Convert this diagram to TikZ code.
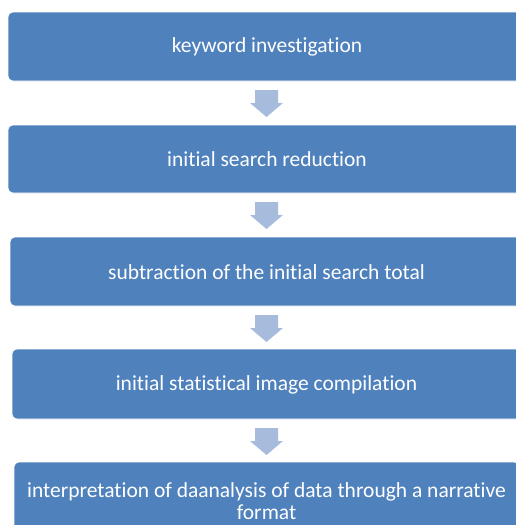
\documentclass[tikz,border=0pt]{standalone}
\usepackage{fontspec}
\setmainfont[Ligatures=NoCommon,RawFeature={-liga;-clig}]{Carlito}
\definecolor{boxblue}{HTML}{4F81BD}
\definecolor{arrowblue}{HTML}{A7BCDD}
\begin{document}
\begin{tikzpicture}[x=1pt,y=-1pt,
  flowbox/.style={fill=boxblue,draw=white,line width=0.6pt,rounded corners=5pt},
  flowtext/.style={text=white,font=\fontsize{21.5}{21.5}\selectfont,align=center,inner sep=0pt},
  downarrow/.style={fill=arrowblue,draw=none}]
\useasboundingbox (0,0) rectangle (516,525);
\clip (0,0) rectangle (516,525);
\fill[white] (0,0) rectangle (516,525);
% boxes
\draw[flowbox] (8,12) rectangle (526,81);
\draw[flowbox] (8,125) rectangle (526,193);
\draw[flowbox] (10,237) rectangle (523,306);
\draw[flowbox] (12,349) rectangle (521,419);
\draw[flowbox] (14,462) rectangle (519,532);
% texts
\node[flowtext] (t1) at (267,47) {keyword investigation};
\node[flowtext] (t2) at (267,159.5) {initial search reduction};
\node[flowtext] (t3) at (266.5,272) {subtraction of the initial search total};
\node[flowtext] (t4) at (266.5,384.5) {initial statistical image compilation};
\node[flowtext] (t5) at (266.5,501) {interpretation of daanalysis of data through a narrative\\format};
% arrows
\foreach \y in {90,202,315,428}{
  \fill[downarrow] (255,\y) -- (278,\y) -- (278,\y+13) -- (283,\y+13) -- (266.5,\y+27) -- (250,\y+13) -- (255,\y+13) -- cycle;
}
\end{tikzpicture}
\end{document}
